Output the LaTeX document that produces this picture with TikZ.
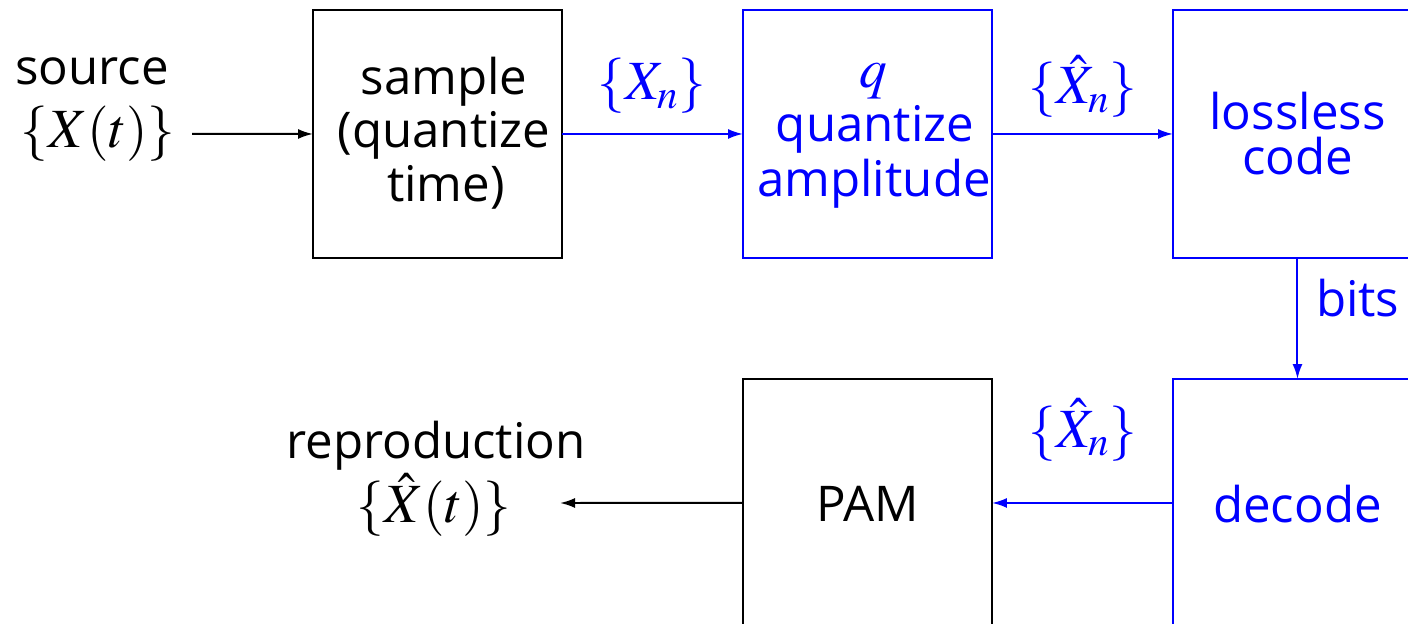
\documentclass[tikz,border=0pt]{standalone}
\usepackage{mathptmx}
\usepackage[no-math]{fontspec}
\setmainfont{Open Sans}
\usetikzlibrary{arrows.meta}
\definecolor{pblue}{RGB}{0,0,255}
\begin{document}
\begin{tikzpicture}[x=0.02cm,y=-0.02cm,
  box/.style={draw,line width=0.04cm,minimum width=4.98cm,minimum height=4.96cm,inner sep=0pt,outer sep=0pt,anchor=north west},
  txt/.style={anchor=base,inner sep=0pt,outer sep=0pt,font=\fontsize{28}{30}\selectfont},
  mtxt/.style={anchor=base,inner sep=0pt,outer sep=0pt,font=\fontsize{31.5}{33}\selectfont},
  arr/.style={line width=0.04cm,-{Latex[length=0.3cm,width=0.2cm]}},
  blueline/.style={draw=pblue,text=pblue},
]
\useasboundingbox (0,0) rectangle (1408,624);
\clip (0,0) rectangle (1408,624);
% boxes
\node[box] (sample) at (313,10) {};
\node[box,blueline] (quant) at (743,10) {};
\node[box,blueline] (lossless) at (1173,10) {};
\node[box,blueline] (decode) at (1173,379) {};
\node[box] (pam) at (743,379) {};
% texts
\node[txt] (tsource) at (92,85) {source};
\node[mtxt] (tsrcx) at (98,148) {$\{X(t)\}$};
\node[txt] (ts1) at (444,95) {sample};
\node[txt] (ts2) at (444,148) {(quantize};
\node[txt] (ts3) at (446,202) {time)};
\node[mtxt,text=pblue] (tq1) at (873,88) {$q$};
\node[txt,text=pblue] (tq2) at (875,142) {quantize};
\node[txt,text=pblue] (tq3) at (874,197) {amplitude};
\node[txt,text=pblue] (tl1) at (1297.5,130) {lossless};
\node[txt,text=pblue] (tl2) at (1297.5,175) {code};
\node[txt,text=pblue] (tdec) at (1297.5,522) {decode};
\node[txt] (tpam) at (867.5,521) {PAM};
\node[txt] (trep) at (436,458) {reproduction};
\node[mtxt] (trepx) at (434,522) {$\{\hat{X}(t)\}$};
\node[mtxt,text=pblue] (lxn) at (652,100) {$\{X_n\}$};
\node[mtxt,text=pblue] (lxh1) at (1083,104) {$\{\hat{X}_n\}$};
\node[mtxt,text=pblue] (lxh2) at (1083,447) {$\{\hat{X}_n\}$};
\node[txt,text=pblue,anchor=base west] (lbits) at (1316,317) {bits};
% connectors
\coordinate (srcend) at (192,134);
\coordinate (repend) at (560,503);
\draw[arr] (srcend) -- (sample.west);
\draw[arr,pblue] (sample.east) -- (quant.west);
\draw[arr,pblue] (quant.east) -- (lossless.west);
\draw[arr,pblue] (lossless.south) -- (decode.north);
\draw[arr,pblue] (decode.west) -- (pam.east);
\draw[arr] (pam.west) -- (repend);
\end{tikzpicture}
\end{document}
